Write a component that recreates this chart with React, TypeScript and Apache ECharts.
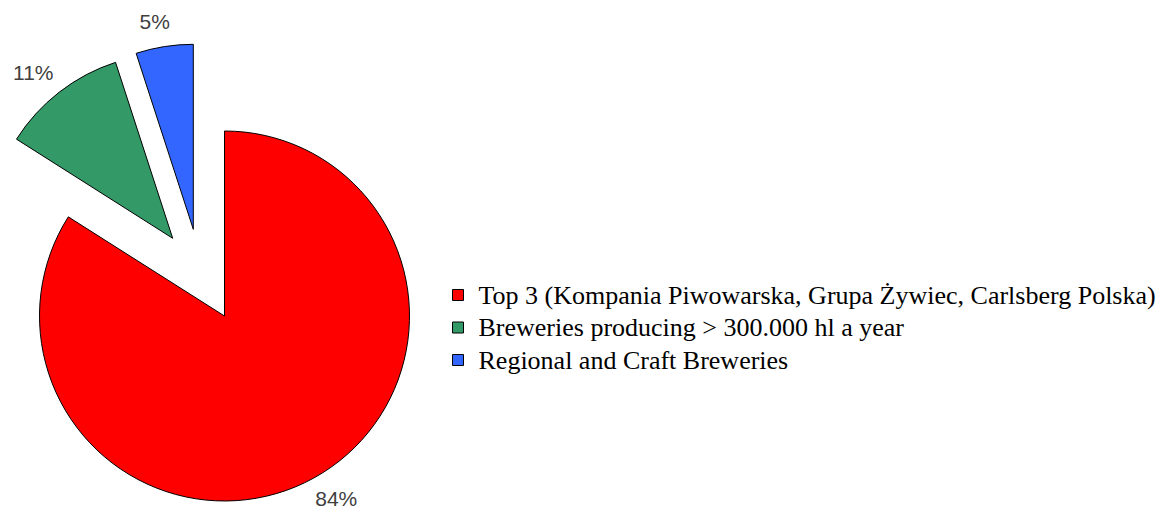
import React, { useEffect, useRef } from "react";
import * as echarts from "echarts";

const categories = [
  "Top 3 (Kompania Piwowarska, Grupa Żywiec, Carlsberg Polska)",
  "Breweries producing > 300.000 hl a year",
  "Regional and Craft Breweries",
];
const shares = [84, 11, 5];
const sliceColors = ["#FF0000", "#339966", "#3366FF"];
// exploded slices: each slice drawn around its own displaced centre (layout)
const sliceCenters = [
  [224.5, 316],
  [172.7, 238.3],
  [193.3, 229.3],
];
const labelDistances = [23, 25, 25];

export default function App() {
  const ref = useRef<HTMLDivElement>(null);
  useEffect(() => {
    document.body.style.margin = "0";
    const chart = echarts.init(ref.current!, null, { renderer: "svg" });
    const series = categories.map((_, si) => ({
      type: "pie",
      center: sliceCenters[si],
      radius: 185,
      startAngle: 90,
      clockwise: true,
      avoidLabelOverlap: false,
      silent: true,
      itemStyle: { borderColor: "#000", borderWidth: 1 },
      label: {
        show: true,
        position: "outside",
        formatter: "{d}%",
        fontFamily: "Liberation Sans, Arial, sans-serif",
        fontSize: 21,
        lineHeight: 18,
        color: "#404040",
        distanceToLabelLine: 5,
      },
      labelLine: { show: false, length: labelDistances[si], length2: -14.5 },
      emphasis: { disabled: true },
      data: categories.map((name, i) =>
        i === si
          ? { name, value: shares[i], itemStyle: { color: sliceColors[i] } }
          : {
              name: "",
              value: shares[i],
              itemStyle: { color: "transparent", borderWidth: 0 },
              label: { show: false },
            }
      ),
    }));
    chart.setOption({
      animation: false,
      legend: {
        orient: "vertical",
        left: 452,
        top: 282,
        padding: 0,
        itemWidth: 11,
        itemHeight: 11,
        itemGap: 6.5,
        icon: "rect",
        selectedMode: false,
        data: categories,
        itemStyle: { borderColor: "#000", borderWidth: 1 },
        textStyle: {
          fontFamily: "Liberation Serif, Times New Roman, serif",
          fontSize: 26,
          color: "#000",
          padding: [0, 0, 0, 10],
        },
      },
      series,
    });
    return () => chart.dispose();
  }, []);
  return <div ref={ref} style={{ width: 1161, height: 510 }} />;
}
